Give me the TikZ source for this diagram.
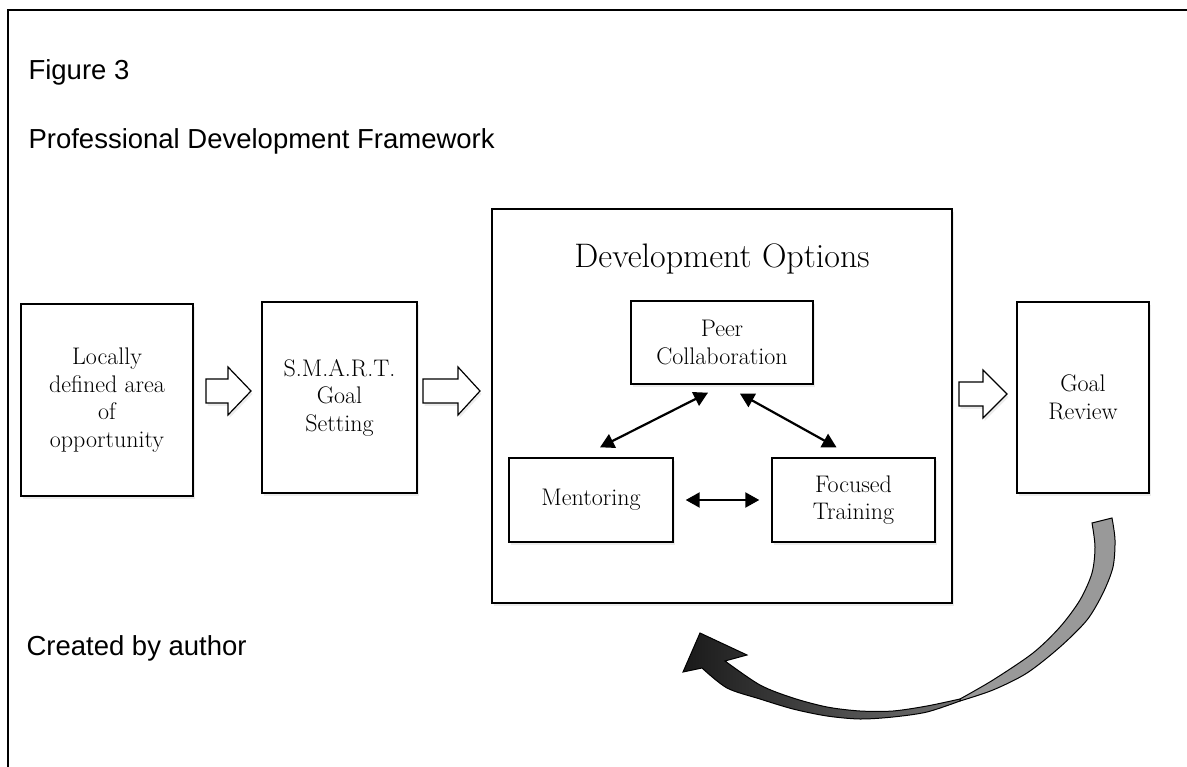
\documentclass[tikz,border=0pt]{standalone}
\usepackage{fontspec}
\newfontfamily\headfont{Liberation Sans}
\usetikzlibrary{arrows.meta,shadows}

\begin{document}
\begin{tikzpicture}[x=1pt,y=-1pt,
    box/.style={draw,line width=1.4pt,fill=white,align=center,inner sep=0pt,
        font=\fontsize{24}{27.5}\selectfont,
        drop shadow={opacity=0.15,shadow xshift=1.5pt,shadow yshift=-3pt}},
    fatarrow/.style={draw,line width=1.2pt,fill=white,line join=miter},
    twoway/.style={{Triangle[length=14pt,width=15pt]}-{Triangle[length=14pt,width=15pt]},line width=2.2pt},
    caption/.style={font=\headfont\fontsize{27.5}{32}\selectfont,anchor=base west}]
\useasboundingbox (0,0) rectangle (1187,767);

% Frame
\draw[line width=1.6pt] (8,767) -- (8,10) -- (1187,10);

% Captions
\node[caption] (fig) at (25,80) {Figure 3};
\node[caption] (title) at (25,149) {Professional Development Framework};
\node[caption] (credit) at (23,655) {Created by author};

% Main steps
\node[box,minimum width=172pt,minimum height=192pt] (local) at (107,400) {Locally\\defined area\\of\\opportunity};
\node[box,minimum width=155pt,minimum height=191pt] (smart) at (339.5,397.5) {S.M.A.R.T.\\Goal\\Setting};
\node[box,minimum width=460pt,minimum height=394pt] (options) at (722,406) {};
\node[box,minimum width=132pt,minimum height=191pt] (review) at (1083,397.5) {Goal\\Review};

% Options inside the big box
\node[anchor=base,font=\fontsize{34}{40}\selectfont] (optitle) at (722,268) {Development Options};
\node[box,minimum width=182pt,minimum height=83pt] (peer) at (722,342.5) {Peer\\Collaboration};
\node[box,minimum width=164pt,minimum height=84pt] (mentor) at (591,500) {Mentoring};
\node[box,minimum width=163pt,minimum height=84pt] (train) at (853.5,500) {Focused\\Training};

\draw[twoway] ([xshift=9pt,yshift=10pt]mentor.north) -- ([xshift=-14pt,yshift=-8pt]peer.south);
\draw[twoway] ([xshift=18pt,yshift=-9pt]peer.south) -- ([xshift=-17pt,yshift=10pt]train.north);
\draw[twoway,shorten <=12pt,shorten >=12pt] (mentor.east) -- (train.west);

% Hollow arrows between the steps
\foreach \xa/\xh/\xb/\y in {206/228/251/391, 423/458/480/391, 959/983/1007/394}
    \draw[fatarrow,drop shadow={opacity=0.15,shadow xshift=1.5pt,shadow yshift=-3pt}]
        (\xa,\y-12) -- (\xh,\y-12) -- (\xh,\y-24) -- (\xb,\y) -- (\xh,\y+24)
        -- (\xh,\y+12) -- (\xa,\y+12) -- cycle;

% Curved arrow back from the review
\draw[line width=1pt,fill=black!40]
    plot[smooth] coordinates {(1112,518) (1115,540) (1113,567) (1103,593) (1087,620)
        (1060,647) (1027,673) (993,690) (960,701)}
    -- plot[smooth] coordinates {(960,699) (993,680) (1033,653) (1060,627) (1080,600)
        (1092,573) (1095,547) (1092,523)}
    -- cycle;
\draw[line width=1pt,left color=black!90,right color=black!55]
    plot[smooth] coordinates {(960,701) (927,712) (893,717) (860,719) (827,716)
        (793,709) (760,699) (727,688) (702,668)}
    -- (683,672) -- (700,633) -- (747,655) -- (725,661)
    -- plot[smooth] coordinates {(725,661) (760,685) (793,698) (827,707) (860,711)
        (893,711) (927,706) (960,699)}
    -- cycle;
\end{tikzpicture}
\end{document}
